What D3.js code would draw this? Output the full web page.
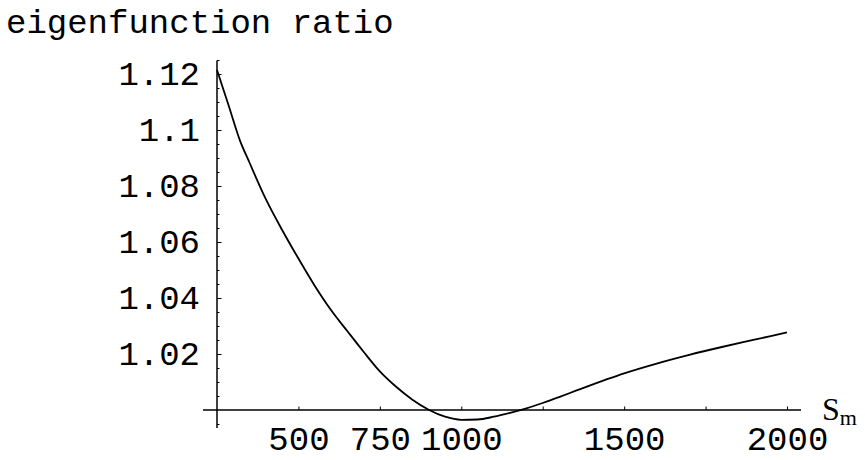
<!DOCTYPE html>
<html>
<head>
<meta charset="utf-8">
<script src="https://cdn.jsdelivr.net/npm/d3@7"></script>
<style>
  html, body { margin: 0; padding: 0; background: #fff; }
  svg { display: block; }
  .mono { font-family: "Liberation Mono", "Courier New", monospace; font-size: 34px; fill: #000; }
</style>
</head>
<body>
<svg id="chart" width="865" height="460"></svg>
<script>
// S_m values along the curve
const sm = [250, 285, 320, 350, 400, 450, 500, 550, 600, 650, 700, 750, 800, 850, 900,
            950, 1000, 1050, 1100, 1150, 1200, 1250, 1300, 1350, 1400, 1450, 1500,
            1600, 1700, 1800, 1900, 2000];
// eigenfunction ratio at each S_m
const ratio = [1.1214, 1.1090, 1.0964, 1.0883, 1.0753, 1.0643, 1.0541, 1.0444, 1.0357, 1.0282,
               1.0208, 1.0138, 1.0083, 1.0037, 1.0001, 0.9976, 0.9965, 0.9966, 0.9976,
               0.9990, 1.0006, 1.0025, 1.0046, 1.0068, 1.0090, 1.0111, 1.0131, 1.0166,
               1.0197, 1.0225, 1.0251, 1.0277];

const xTicks = [500, 750, 1000, 1250, 1500, 1750, 2000];
const xTickLabels = ["500", "750", "1000", "", "1500", "", "2000"];
const yTicks = [1.02, 1.04, 1.06, 1.08, 1.1, 1.12];
const yTickLabels = ["1.02", "1.04", "1.06", "1.08", "1.1", "1.12"];
const yMinorTicks = d3.range(0, 27).map(i => +(0.995 + i * 0.005).toFixed(3))
  .filter(v => !yTicks.some(t => Math.abs(t - v) < 1e-9) && Math.abs(v - 1) > 1e-9);

const titleText = "eigenfunction ratio";
const xName = "S";
const xSub = "m";

const svg = d3.select("#chart");

const x = d3.scaleLinear().domain([250, 2000]).range([217, 787]);
const y = d3.scaleLinear().domain([1.0, 1.12]).range([410, 74]);

// axis lines, extended a little beyond the plotted range
svg.append("line")
  .attr("x1", x(207)).attr("x2", x(2043))
  .attr("y1", y(1.0)).attr("y2", y(1.0))
  .attr("stroke", "#000").attr("stroke-width", 1.5);
svg.append("line")
  .attr("x1", x(250)).attr("x2", x(250))
  .attr("y1", y(0.99357)).attr("y2", y(1.1248))
  .attr("stroke", "#000").attr("stroke-width", 1.5);

// x axis ticks (pointing up) and labels
const xAxis = d3.axisBottom(x)
  .tickValues(xTicks)
  .tickSize(-3.5)
  .tickPadding(16)
  .tickFormat((d, i) => xTickLabels[i]);
const gx = svg.append("g").attr("transform", `translate(0,${y(1.0)})`).call(xAxis);
gx.select(".domain").remove();
gx.selectAll(".tick line").attr("stroke", "#000").attr("stroke-width", 1);
gx.selectAll(".tick text").attr("class", "mono");
gx.attr("font-size", null).attr("font-family", null);

// y axis major ticks (pointing right) with labels on the left
const yAxis = d3.axisLeft(y)
  .tickValues(yTicks)
  .tickSize(-4.5)
  .tickPadding(17)
  .tickFormat((d, i) => yTickLabels[i]);
const gy = svg.append("g").attr("transform", `translate(${x(250)},0)`).call(yAxis);
gy.select(".domain").remove();
gy.selectAll(".tick line").attr("stroke", "#000").attr("stroke-width", 1);
gy.selectAll(".tick text").attr("class", "mono");
gy.attr("font-size", null).attr("font-family", null);

// y axis minor ticks
const yMinor = d3.axisLeft(y)
  .tickValues(yMinorTicks)
  .tickSize(-2.5)
  .tickFormat("");
const gym = svg.append("g").attr("transform", `translate(${x(250)},0)`).call(yMinor);
gym.select(".domain").remove();
gym.selectAll(".tick line").attr("stroke", "#000").attr("stroke-width", 1);

// the curve
const data = sm.map((s, i) => ({ s, r: ratio[i] }));
const line = d3.line().x(d => x(d.s)).y(d => y(d.r)).curve(d3.curveMonotoneX);
svg.append("path")
  .datum(data)
  .attr("d", line)
  .attr("fill", "none")
  .attr("stroke", "#000")
  .attr("stroke-width", 1.8)
  .attr("stroke-linejoin", "round");

// title
svg.append("text")
  .attr("class", "mono")
  .attr("x", 6).attr("y", 33)
  .text(titleText);

// x axis name with subscript
const xl = svg.append("text")
  .attr("x", 822).attr("y", 420)
  .attr("font-family", "'Liberation Serif', 'Times New Roman', serif")
  .attr("font-size", 32)
  .attr("fill", "#000");
xl.append("tspan").text(xName);
xl.append("tspan").attr("font-size", 22).attr("dy", 5).text(xSub);
</script>
</body>
</html>
